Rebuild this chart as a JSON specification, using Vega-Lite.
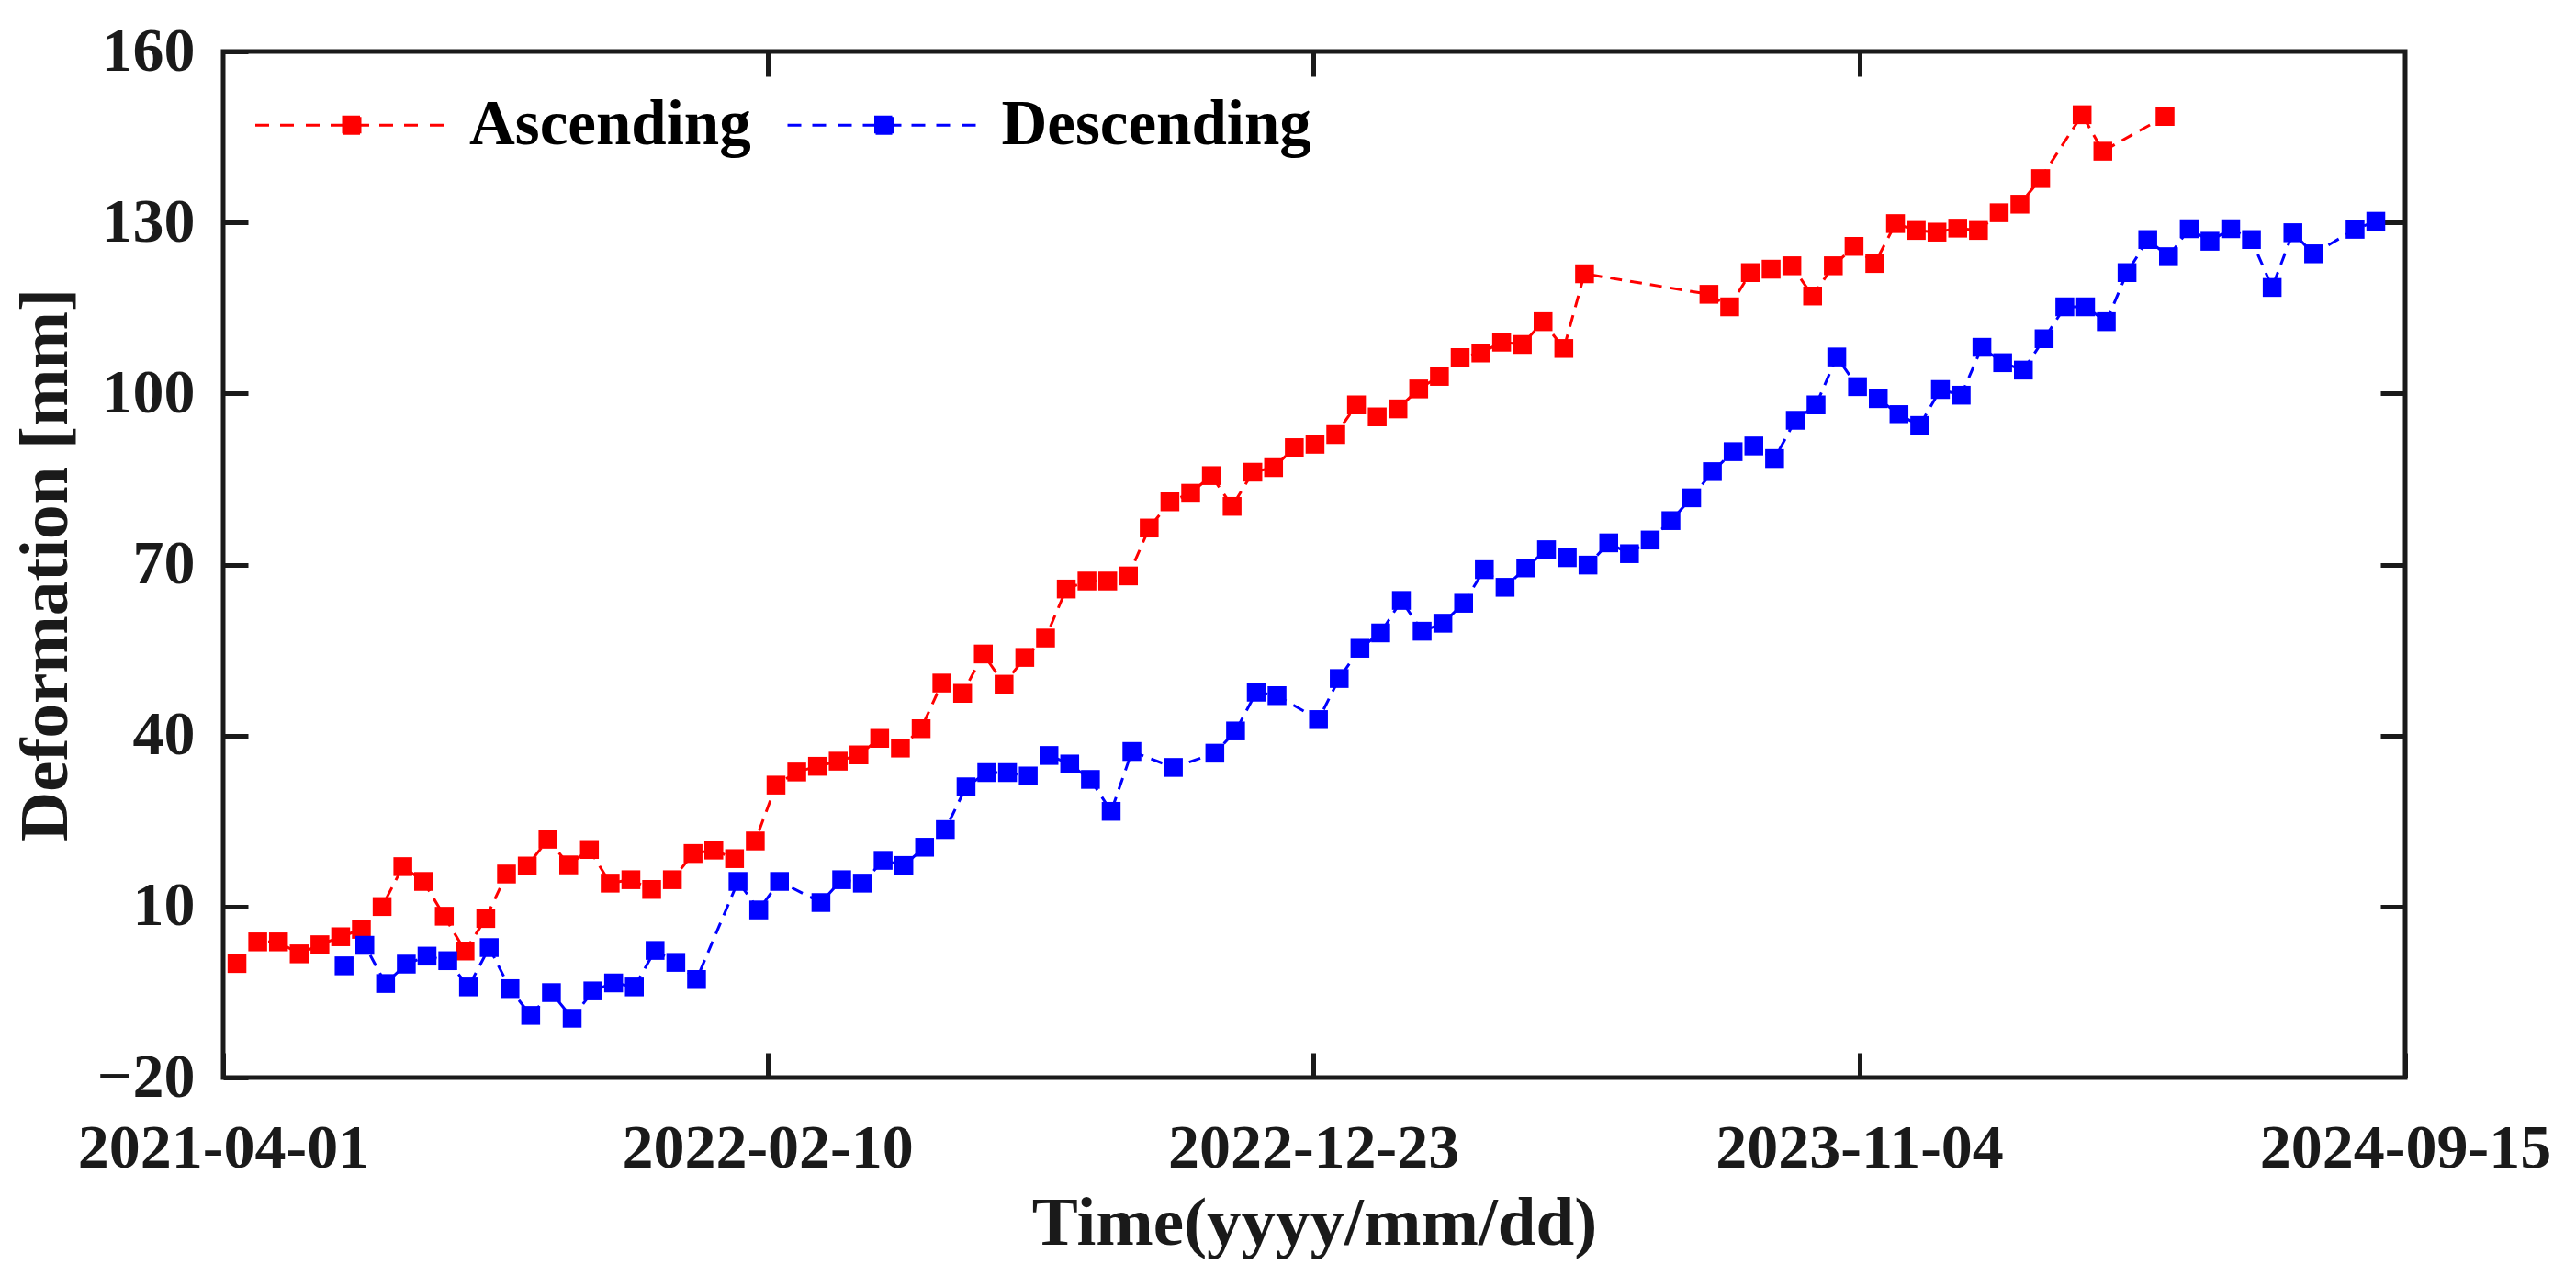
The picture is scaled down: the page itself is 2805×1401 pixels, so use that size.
{
  "$schema": "https://vega.github.io/schema/vega-lite/v6.json",
  "width": 2376,
  "height": 1117,
  "autosize": {"type": "none"},
  "padding": {"left": 243, "top": 56, "right": 186, "bottom": 228},
  "background": "white",
  "config": {
    "view": {"stroke": "#1a1a1a", "strokeWidth": 5},
    "font": "Liberation Serif",
    "axis": {
      "labelFont": "Liberation Serif",
      "labelFontWeight": "bold",
      "labelFontSize": 68,
      "labelColor": "#1a1a1a",
      "titleFont": "Liberation Serif",
      "titleFontWeight": "bold",
      "titleFontSize": 75,
      "titleColor": "#1a1a1a",
      "offset": -27,
      "ticks": true,
      "tickSize": 27,
      "tickWidth": 5,
      "tickColor": "#1a1a1a",
      "domain": false,
      "grid": false,
      "labelLimit": 1000,
      "labelFlush": false,
      "labelOverlap": false
    }
  },
  "data": {
    "values": [
      {"date": "2021-04-09", "series": "Ascending", "value": 0},
      {"date": "2021-04-21", "series": "Ascending", "value": 3.8},
      {"date": "2021-05-03", "series": "Ascending", "value": 3.8},
      {"date": "2021-05-15", "series": "Ascending", "value": 1.7},
      {"date": "2021-05-27", "series": "Ascending", "value": 3.3},
      {"date": "2021-06-08", "series": "Ascending", "value": 4.7},
      {"date": "2021-06-20", "series": "Ascending", "value": 6.0},
      {"date": "2021-07-02", "series": "Ascending", "value": 10.0},
      {"date": "2021-07-14", "series": "Ascending", "value": 17.0},
      {"date": "2021-07-26", "series": "Ascending", "value": 14.4},
      {"date": "2021-08-07", "series": "Ascending", "value": 8.3},
      {"date": "2021-08-19", "series": "Ascending", "value": 2.2},
      {"date": "2021-08-31", "series": "Ascending", "value": 7.9},
      {"date": "2021-09-12", "series": "Ascending", "value": 15.7},
      {"date": "2021-09-24", "series": "Ascending", "value": 17.1},
      {"date": "2021-10-06", "series": "Ascending", "value": 21.8},
      {"date": "2021-10-18", "series": "Ascending", "value": 17.3},
      {"date": "2021-10-30", "series": "Ascending", "value": 20.0},
      {"date": "2021-11-11", "series": "Ascending", "value": 14.1},
      {"date": "2021-11-23", "series": "Ascending", "value": 14.7},
      {"date": "2021-12-05", "series": "Ascending", "value": 13.0},
      {"date": "2021-12-17", "series": "Ascending", "value": 14.7},
      {"date": "2021-12-29", "series": "Ascending", "value": 19.3},
      {"date": "2022-01-10", "series": "Ascending", "value": 19.9},
      {"date": "2022-01-22", "series": "Ascending", "value": 18.4},
      {"date": "2022-02-03", "series": "Ascending", "value": 21.5},
      {"date": "2022-02-15", "series": "Ascending", "value": 31.3},
      {"date": "2022-02-27", "series": "Ascending", "value": 33.6},
      {"date": "2022-03-11", "series": "Ascending", "value": 34.6},
      {"date": "2022-03-23", "series": "Ascending", "value": 35.5},
      {"date": "2022-04-04", "series": "Ascending", "value": 36.6},
      {"date": "2022-04-16", "series": "Ascending", "value": 39.5},
      {"date": "2022-04-28", "series": "Ascending", "value": 37.8},
      {"date": "2022-05-10", "series": "Ascending", "value": 41.2},
      {"date": "2022-05-22", "series": "Ascending", "value": 49.2},
      {"date": "2022-06-03", "series": "Ascending", "value": 47.4},
      {"date": "2022-06-15", "series": "Ascending", "value": 54.3},
      {"date": "2022-06-27", "series": "Ascending", "value": 49.0},
      {"date": "2022-07-09", "series": "Ascending", "value": 53.7},
      {"date": "2022-07-21", "series": "Ascending", "value": 57.1},
      {"date": "2022-08-02", "series": "Ascending", "value": 65.7},
      {"date": "2022-08-14", "series": "Ascending", "value": 67.1},
      {"date": "2022-08-26", "series": "Ascending", "value": 67.1},
      {"date": "2022-09-07", "series": "Ascending", "value": 68.0},
      {"date": "2022-09-19", "series": "Ascending", "value": 76.4},
      {"date": "2022-10-01", "series": "Ascending", "value": 81.0},
      {"date": "2022-10-13", "series": "Ascending", "value": 82.5},
      {"date": "2022-10-25", "series": "Ascending", "value": 85.6},
      {"date": "2022-11-06", "series": "Ascending", "value": 80.2},
      {"date": "2022-11-18", "series": "Ascending", "value": 86.2},
      {"date": "2022-11-30", "series": "Ascending", "value": 87.0},
      {"date": "2022-12-12", "series": "Ascending", "value": 90.5},
      {"date": "2022-12-24", "series": "Ascending", "value": 91.1},
      {"date": "2023-01-05", "series": "Ascending", "value": 92.8},
      {"date": "2023-01-17", "series": "Ascending", "value": 98.0},
      {"date": "2023-01-29", "series": "Ascending", "value": 95.9},
      {"date": "2023-02-10", "series": "Ascending", "value": 97.3},
      {"date": "2023-02-22", "series": "Ascending", "value": 100.8},
      {"date": "2023-03-06", "series": "Ascending", "value": 103.0},
      {"date": "2023-03-18", "series": "Ascending", "value": 106.3},
      {"date": "2023-03-30", "series": "Ascending", "value": 107.1},
      {"date": "2023-04-11", "series": "Ascending", "value": 109.0},
      {"date": "2023-04-23", "series": "Ascending", "value": 108.6},
      {"date": "2023-05-05", "series": "Ascending", "value": 112.6},
      {"date": "2023-05-17", "series": "Ascending", "value": 107.9},
      {"date": "2023-05-29", "series": "Ascending", "value": 121.0},
      {"date": "2023-08-09", "series": "Ascending", "value": 117.4},
      {"date": "2023-08-21", "series": "Ascending", "value": 115.2},
      {"date": "2023-09-02", "series": "Ascending", "value": 121.2},
      {"date": "2023-09-14", "series": "Ascending", "value": 121.8},
      {"date": "2023-09-26", "series": "Ascending", "value": 122.4},
      {"date": "2023-10-08", "series": "Ascending", "value": 117.1},
      {"date": "2023-10-20", "series": "Ascending", "value": 122.4},
      {"date": "2023-11-01", "series": "Ascending", "value": 125.8},
      {"date": "2023-11-13", "series": "Ascending", "value": 122.8},
      {"date": "2023-11-25", "series": "Ascending", "value": 129.8},
      {"date": "2023-12-07", "series": "Ascending", "value": 128.6},
      {"date": "2023-12-19", "series": "Ascending", "value": 128.3},
      {"date": "2023-12-31", "series": "Ascending", "value": 129.0},
      {"date": "2024-01-12", "series": "Ascending", "value": 128.6},
      {"date": "2024-01-24", "series": "Ascending", "value": 131.7},
      {"date": "2024-02-05", "series": "Ascending", "value": 133.2},
      {"date": "2024-02-17", "series": "Ascending", "value": 137.7},
      {"date": "2024-03-12", "series": "Ascending", "value": 148.9},
      {"date": "2024-03-24", "series": "Ascending", "value": 142.5},
      {"date": "2024-04-29", "series": "Ascending", "value": 148.6},
      {"date": "2021-06-10", "series": "Descending", "value": -0.4},
      {"date": "2021-06-22", "series": "Descending", "value": 3.2},
      {"date": "2021-07-04", "series": "Descending", "value": -3.5},
      {"date": "2021-07-16", "series": "Descending", "value": -0.1},
      {"date": "2021-07-28", "series": "Descending", "value": 1.3},
      {"date": "2021-08-09", "series": "Descending", "value": 0.5},
      {"date": "2021-08-21", "series": "Descending", "value": -4.1},
      {"date": "2021-09-02", "series": "Descending", "value": 2.8},
      {"date": "2021-09-14", "series": "Descending", "value": -4.4},
      {"date": "2021-09-26", "series": "Descending", "value": -9.1},
      {"date": "2021-10-08", "series": "Descending", "value": -5.1},
      {"date": "2021-10-20", "series": "Descending", "value": -9.6},
      {"date": "2021-11-01", "series": "Descending", "value": -4.8},
      {"date": "2021-11-13", "series": "Descending", "value": -3.4},
      {"date": "2021-11-25", "series": "Descending", "value": -4.1},
      {"date": "2021-12-07", "series": "Descending", "value": 2.3},
      {"date": "2021-12-19", "series": "Descending", "value": 0.2},
      {"date": "2021-12-31", "series": "Descending", "value": -2.8},
      {"date": "2022-01-24", "series": "Descending", "value": 14.4},
      {"date": "2022-02-05", "series": "Descending", "value": 9.4},
      {"date": "2022-02-17", "series": "Descending", "value": 14.4},
      {"date": "2022-03-13", "series": "Descending", "value": 10.7},
      {"date": "2022-03-25", "series": "Descending", "value": 14.7},
      {"date": "2022-04-06", "series": "Descending", "value": 14.1},
      {"date": "2022-04-18", "series": "Descending", "value": 18.1},
      {"date": "2022-04-30", "series": "Descending", "value": 17.2},
      {"date": "2022-05-12", "series": "Descending", "value": 20.4},
      {"date": "2022-05-24", "series": "Descending", "value": 23.5},
      {"date": "2022-06-05", "series": "Descending", "value": 31.0},
      {"date": "2022-06-17", "series": "Descending", "value": 33.5},
      {"date": "2022-06-29", "series": "Descending", "value": 33.5},
      {"date": "2022-07-11", "series": "Descending", "value": 32.9},
      {"date": "2022-07-23", "series": "Descending", "value": 36.5},
      {"date": "2022-08-04", "series": "Descending", "value": 35.0},
      {"date": "2022-08-16", "series": "Descending", "value": 32.3},
      {"date": "2022-08-28", "series": "Descending", "value": 26.7},
      {"date": "2022-09-09", "series": "Descending", "value": 37.2},
      {"date": "2022-10-03", "series": "Descending", "value": 34.4},
      {"date": "2022-10-27", "series": "Descending", "value": 36.9},
      {"date": "2022-11-08", "series": "Descending", "value": 40.8},
      {"date": "2022-11-20", "series": "Descending", "value": 47.6},
      {"date": "2022-12-02", "series": "Descending", "value": 47.0},
      {"date": "2022-12-26", "series": "Descending", "value": 42.8},
      {"date": "2023-01-07", "series": "Descending", "value": 50.0},
      {"date": "2023-01-19", "series": "Descending", "value": 55.3},
      {"date": "2023-01-31", "series": "Descending", "value": 58.0},
      {"date": "2023-02-12", "series": "Descending", "value": 63.7},
      {"date": "2023-02-24", "series": "Descending", "value": 58.3},
      {"date": "2023-03-08", "series": "Descending", "value": 59.7},
      {"date": "2023-03-20", "series": "Descending", "value": 63.2},
      {"date": "2023-04-01", "series": "Descending", "value": 69.1},
      {"date": "2023-04-13", "series": "Descending", "value": 66.0},
      {"date": "2023-04-25", "series": "Descending", "value": 69.4},
      {"date": "2023-05-07", "series": "Descending", "value": 72.6},
      {"date": "2023-05-19", "series": "Descending", "value": 71.2},
      {"date": "2023-05-31", "series": "Descending", "value": 69.9},
      {"date": "2023-06-12", "series": "Descending", "value": 73.8},
      {"date": "2023-06-24", "series": "Descending", "value": 71.9},
      {"date": "2023-07-06", "series": "Descending", "value": 74.3},
      {"date": "2023-07-18", "series": "Descending", "value": 77.7},
      {"date": "2023-07-30", "series": "Descending", "value": 81.7},
      {"date": "2023-08-11", "series": "Descending", "value": 86.3},
      {"date": "2023-08-23", "series": "Descending", "value": 89.8},
      {"date": "2023-09-04", "series": "Descending", "value": 90.8},
      {"date": "2023-09-16", "series": "Descending", "value": 88.6},
      {"date": "2023-09-28", "series": "Descending", "value": 95.3},
      {"date": "2023-10-10", "series": "Descending", "value": 98.0},
      {"date": "2023-10-22", "series": "Descending", "value": 106.4},
      {"date": "2023-11-03", "series": "Descending", "value": 101.2},
      {"date": "2023-11-15", "series": "Descending", "value": 99.1},
      {"date": "2023-11-27", "series": "Descending", "value": 96.3},
      {"date": "2023-12-09", "series": "Descending", "value": 94.4},
      {"date": "2023-12-21", "series": "Descending", "value": 100.7},
      {"date": "2024-01-02", "series": "Descending", "value": 99.7},
      {"date": "2024-01-14", "series": "Descending", "value": 108.1},
      {"date": "2024-01-26", "series": "Descending", "value": 105.4},
      {"date": "2024-02-07", "series": "Descending", "value": 104.1},
      {"date": "2024-02-19", "series": "Descending", "value": 109.6},
      {"date": "2024-03-02", "series": "Descending", "value": 115.2},
      {"date": "2024-03-14", "series": "Descending", "value": 115.2},
      {"date": "2024-03-26", "series": "Descending", "value": 112.6},
      {"date": "2024-04-07", "series": "Descending", "value": 121.2},
      {"date": "2024-04-19", "series": "Descending", "value": 127.0},
      {"date": "2024-05-01", "series": "Descending", "value": 124.0},
      {"date": "2024-05-13", "series": "Descending", "value": 128.9},
      {"date": "2024-05-25", "series": "Descending", "value": 126.7},
      {"date": "2024-06-06", "series": "Descending", "value": 128.9},
      {"date": "2024-06-18", "series": "Descending", "value": 127.0},
      {"date": "2024-06-30", "series": "Descending", "value": 118.6},
      {"date": "2024-07-12", "series": "Descending", "value": 128.2},
      {"date": "2024-07-24", "series": "Descending", "value": 124.5},
      {"date": "2024-08-17", "series": "Descending", "value": 128.8},
      {"date": "2024-08-29", "series": "Descending", "value": 130.2}
    ]
  },
  "resolve": {"axis": {"x": "independent", "y": "independent"}},
  "layer": [
    {
      "mark": {"type": "line", "strokeDash": [13, 9], "strokeWidth": 3},
      "encoding": {
        "x": {
          "field": "date",
          "type": "temporal",
          "scale": {
            "type": "utc",
            "domain": [
              {"year": 2021, "month": 4, "date": 1, "utc": true},
              {"year": 2024, "month": 9, "date": 15, "utc": true}
            ]
          },
          "axis": {
            "values": [
              {"year": 2021, "month": 4, "date": 1, "utc": true},
              {"year": 2022, "month": 2, "date": 10, "utc": true},
              {"year": 2022, "month": 12, "date": 23, "utc": true},
              {"year": 2023, "month": 11, "date": 4, "utc": true},
              {"year": 2024, "month": 9, "date": 15, "utc": true}
            ],
            "format": "%Y-%m-%d",
            "labelPadding": 43,
            "title": "Time(yyyy/mm/dd)",
            "titlePadding": 11
          }
        },
        "y": {
          "field": "value",
          "type": "quantitative",
          "scale": {"domain": [-20, 160], "nice": false, "zero": false},
          "axis": {
            "values": [-20, 10, 40, 70, 100, 130, 160],
            "labelPadding": 31,
            "title": "Deformation [mm]",
            "titlePadding": 17
          }
        },
        "color": {
          "field": "series",
          "type": "nominal",
          "scale": {"domain": ["Ascending", "Descending"], "range": ["#ff0000", "#0000ff"]}
        }
      }
    },
    {
      "mark": {"type": "point", "shape": "square", "filled": true, "size": 420, "opacity": 1},
      "encoding": {
        "x": {"field": "date", "type": "temporal", "axis": null},
        "y": {"field": "value", "type": "quantitative", "axis": null},
        "color": {
          "field": "series",
          "type": "nominal",
          "legend": {
            "title": null,
            "orient": "none",
            "legendX": 35,
            "legendY": 45.5,
            "direction": "horizontal",
            "padding": 0,
            "columnPadding": 33.5,
            "symbolType": "M-10.5,0H-9M-7.8,0H-6.3M-5,0H-3.5M-2.3,0H-1M1,0H1.9M3,0H4.5M5.7,0H7.2M8.5,0H10M-0.9,-0.9H0.9V0.9H-0.9Z",
            "symbolSize": 400,
            "symbolStrokeWidth": 3,
            "symbolDash": [1, 0],
            "symbolOffset": 70.5,
            "symbolOpacity": 1,
            "labelOffset": 93.5,
            "labelFont": "Liberation Serif",
            "labelFontWeight": "bold",
            "labelFontSize": 69,
            "labelColor": "#000000",
            "labelLimit": 1000
          }
        }
      }
    },
    {
      "mark": {"type": "point", "opacity": 0},
      "encoding": {
        "x": {
          "field": "date",
          "type": "temporal",
          "axis": {
            "orient": "top",
            "labels": false,
            "title": null,
            "values": [
              {"year": 2022, "month": 2, "date": 10, "utc": true},
              {"year": 2022, "month": 12, "date": 23, "utc": true},
              {"year": 2023, "month": 11, "date": 4, "utc": true}
            ]
          }
        },
        "y": {
          "field": "value",
          "type": "quantitative",
          "axis": {
            "orient": "right",
            "labels": false,
            "title": null,
            "values": [10, 40, 70, 100, 130]
          }
        }
      }
    }
  ]
}
